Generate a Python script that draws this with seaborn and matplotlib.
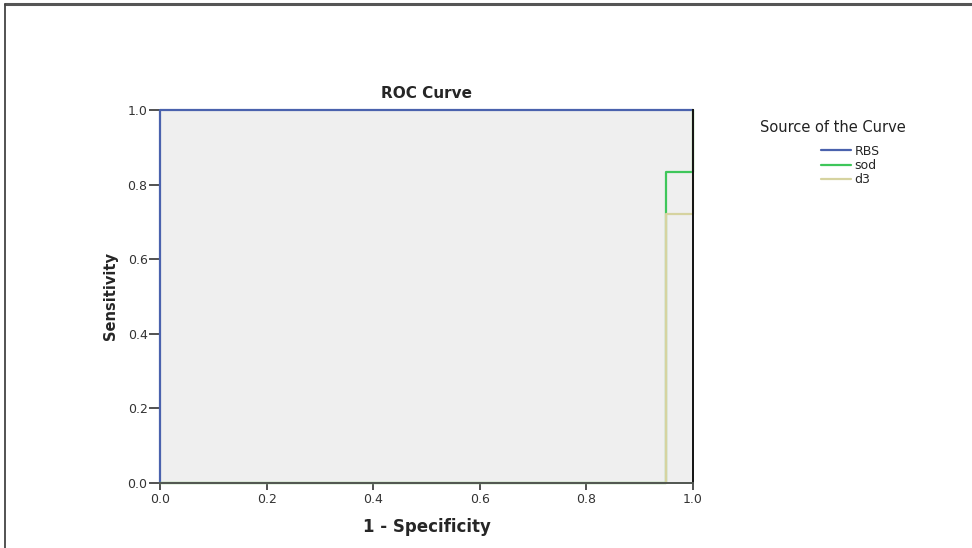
import pandas as pd
import matplotlib.pyplot as plt
from matplotlib.lines import Line2D
import seaborn as sns

# ROC curve points (1 - specificity, sensitivity) per source
rbs_fpr = [0.0, 0.0, 1.0]
rbs_tpr = [0.0, 1.0, 1.0]
sod_fpr = [0.0, 0.95, 0.95, 1.0, 1.0]
sod_tpr = [0.0, 0.0, 0.833, 0.833, 1.0]
d3_fpr = [0.0, 0.95, 0.95, 1.0, 1.0]
d3_tpr = [0.0, 0.0, 0.722, 0.722, 1.0]
sources = ['RBS', 'sod', 'd3']
colors = ['#4a62ad', '#3ec65a', '#d6d3a0']
ticks = [0.0, 0.2, 0.4, 0.6, 0.8, 1.0]
tick_labels = ['0.0', '0.2', '0.4', '0.6', '0.8', '1.0']

rows = []
for name, xs, ys in zip(sources, [rbs_fpr, sod_fpr, d3_fpr], [rbs_tpr, sod_tpr, d3_tpr]):
    for i, (x, y) in enumerate(zip(xs, ys)):
        rows.append({'fpr': x, 'tpr': y, 'source': name, 'order': i})
df = pd.DataFrame(rows)

sns.set_style('white')
plt.rcParams['font.family'] = ['DejaVu Sans']

fig = plt.figure(figsize=(9.72, 5.48), dpi=100)
ax = fig.add_axes([160 / 972, 1 - 483 / 548, 533 / 972, 373 / 548])
ax.set_facecolor('#efefef')

sns.lineplot(data=df, x='fpr', y='tpr', hue='source', hue_order=sources,
             palette=colors, sort=False, estimator=None, linewidth=1.6,
             legend=False, ax=ax)
for line in ax.lines:
    line.set_clip_on(False)
    line.set_zorder(3)

ax.set_xlim(0, 1)
ax.set_ylim(0, 1)
ax.set_xticks(ticks)
ax.set_xticklabels(tick_labels)
ax.set_yticks(ticks)
ax.set_yticklabels(tick_labels)
ax.tick_params(axis='y', direction='out', length=8, width=1.2, pad=1,
               colors='#333333', labelsize=9, left=True)
ax.tick_params(axis='x', direction='out', length=5, width=1.2, pad=2,
               colors='#333333', labelsize=9, bottom=True)
for s in ['left', 'top', 'right', 'bottom']:
    ax.spines[s].set_visible(True)
    ax.spines[s].set_linewidth(1.4)
ax.spines['left'].set_color('#3a3f55')
ax.spines['top'].set_color('#5a6070')
ax.spines['bottom'].set_color('#505550')
ax.spines['right'].set_color('#111111')
ax.spines['left'].set_zorder(2)
ax.spines['top'].set_zorder(2)
ax.spines['bottom'].set_zorder(4)
ax.spines['right'].set_zorder(4)

ax.set_title('ROC Curve', fontsize=11, fontweight='bold', pad=9)
ax.set_xlabel('1 - Specificity', fontsize=12, fontweight='bold', labelpad=9)
ax.set_ylabel('Sensitivity', fontsize=10.5, fontweight='bold', labelpad=7)

# legend
handles = [Line2D([0], [0], color=c, lw=1.6) for c in colors]
fig.text(760 / 972, 1 - 127 / 548, 'Source of the Curve', fontsize=10.5,
         va='center', ha='left', color='#222222')
fig.legend(handles, sources, loc='upper left',
           bbox_to_anchor=(812 / 972, 1 - 136 / 548), frameon=False,
           fontsize=9, handlelength=2.4, handletextpad=0.3,
           labelspacing=0.1, borderpad=0.2)

# outer border
fig.add_artist(Line2D([5 / 972, 1], [1 - 3.5 / 548, 1 - 3.5 / 548],
                      transform=fig.transFigure, color='#555555', lw=2.2))
fig.add_artist(Line2D([5 / 972, 5 / 972], [1 - 3.5 / 548, 0],
                      transform=fig.transFigure, color='#444444', lw=1.3))

fig.savefig('out.png', dpi=100)
